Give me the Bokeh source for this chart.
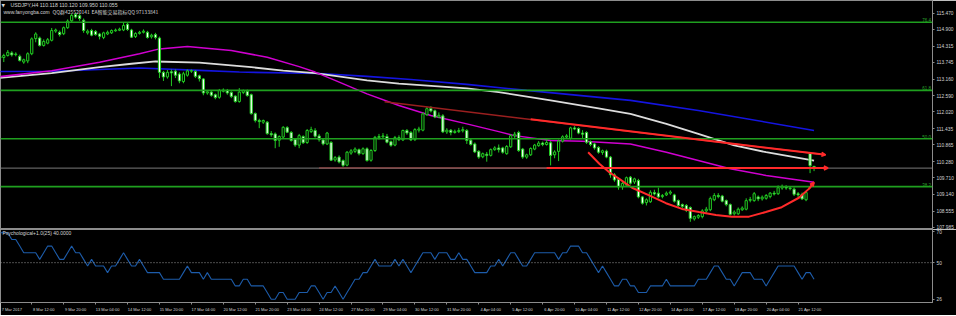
from bokeh.plotting import figure
from bokeh.models import Range1d, FixedTicker, Span, Label, Arrow, VeeHead, NumeralTickFormatter
from bokeh.layouts import column
from bokeh.embed import file_html
from bokeh.resources import INLINE
from bokeh.core.properties import value

# ---------------- data (USDJPY H4) ----------------
opens = [
    113.95, 113.92, 113.99, 114.08, 114.02, 113.96, 113.76, 113.80, 114.05, 114.58,
    114.60, 114.34, 114.42, 114.52, 114.84, 114.80, 114.75, 114.96, 115.20, 115.42,
    115.38, 115.22, 114.78, 114.86, 114.83, 114.74, 114.62, 114.74, 114.78, 114.85,
    114.87, 114.88, 115.08, 114.88, 114.65, 114.76, 114.80, 114.80, 114.64, 114.72,
    114.60, 113.40, 113.24, 113.42, 113.44, 113.34, 113.08, 113.30, 113.44, 113.43,
    113.28, 113.17, 112.68, 112.71, 112.62, 112.53, 112.74, 112.77, 112.70, 112.57,
    112.38, 112.70, 112.74, 112.62, 111.96, 111.72, 111.66, 111.66, 111.26, 111.25,
    111.03, 111.14, 111.47, 111.30, 111.06, 110.86, 111.16, 110.95, 111.33, 111.37,
    111.18, 111.04, 110.90, 110.95, 110.34, 110.44, 110.32, 110.16, 110.58, 110.64,
    110.70, 110.56, 110.73, 110.33, 110.67, 111.12, 111.15, 111.16, 110.98, 110.86,
    111.12, 111.04, 111.37, 111.30, 111.05, 111.38, 111.38, 111.92, 112.14, 112.06,
    111.84, 111.88, 111.32, 111.38, 111.30, 111.33, 111.36, 111.37, 111.03, 110.90,
    110.64, 110.45, 110.54, 110.50, 110.70, 110.76, 110.76, 110.56, 110.80, 111.18,
    111.30, 110.72, 110.44, 110.52, 110.72, 110.84, 110.93, 110.88, 110.94, 110.52,
    110.64, 111.00, 111.14, 111.10, 111.46, 111.44, 111.28, 111.30, 110.98, 110.90,
    110.78, 110.60, 110.65, 110.44, 109.82, 109.66, 109.40, 109.46, 109.74, 109.57,
    109.62, 109.05, 108.85, 108.88, 109.20, 109.18, 109.06, 109.12, 109.18, 109.12,
    108.92, 108.78, 108.75, 108.68, 108.28, 108.34, 108.36, 108.56, 108.60, 108.95,
    109.10, 109.08, 108.92, 108.78, 108.46, 108.46, 108.60, 108.62, 108.93, 108.92,
    109.05, 108.98, 109.00, 109.06, 109.18, 109.16, 109.36, 109.40, 109.36, 109.32,
    109.16, 109.14, 108.95, 110.57, 110.118,
]
highs = [
    114.00, 114.05, 114.18, 114.14, 114.10, 114.02, 113.88, 114.10, 114.62, 114.80,
    114.65, 114.55, 114.60, 114.95, 114.93, 114.86, 115.00, 115.25, 115.45, 115.48,
    115.44, 115.28, 114.90, 114.92, 114.88, 114.78, 114.82, 114.86, 114.90, 114.93,
    114.96, 115.15, 115.14, 114.92, 114.80, 114.85, 114.90, 114.85, 114.75, 114.78,
    114.65, 113.45, 113.48, 113.50, 113.50, 113.40, 113.42, 113.50, 113.50, 113.48,
    113.32, 113.20, 112.78, 112.75, 112.66, 112.82, 112.84, 112.82, 112.74, 112.60,
    112.85, 112.80, 112.80, 112.66, 112.00, 111.78, 111.75, 111.70, 111.35, 111.30,
    111.20, 111.52, 111.52, 111.35, 111.10, 111.25, 111.20, 111.42, 111.50, 111.45,
    111.25, 111.08, 111.32, 111.00, 110.48, 110.50, 110.36, 110.65, 110.72, 110.78,
    110.74, 110.78, 110.78, 110.72, 111.18, 111.25, 111.28, 111.25, 111.02, 111.18,
    111.20, 111.40, 111.42, 111.35, 111.45, 111.50, 112.00, 112.20, 112.22, 112.10,
    112.00, 111.94, 111.45, 111.42, 111.40, 111.46, 111.50, 111.42, 111.08, 110.95,
    110.68, 110.60, 110.62, 110.74, 110.82, 110.88, 110.80, 110.86, 111.24, 111.32,
    111.36, 110.76, 110.56, 110.78, 110.90, 111.00, 110.98, 111.08, 111.00, 110.68,
    111.05, 111.20, 111.24, 111.50, 111.52, 111.48, 111.38, 111.34, 111.02, 110.94,
    110.82, 110.70, 110.70, 110.48, 109.88, 109.72, 109.58, 109.76, 109.78, 109.72,
    109.68, 109.08, 109.00, 109.28, 109.30, 109.37, 109.15, 109.24, 109.28, 109.16,
    108.96, 108.82, 108.80, 108.72, 108.40, 108.45, 108.62, 108.70, 109.06, 109.18,
    109.18, 109.12, 108.96, 108.82, 108.58, 108.68, 108.72, 109.00, 109.05, 109.22,
    109.10, 109.10, 109.15, 109.22, 109.26, 109.45, 109.48, 109.46, 109.42, 109.38,
    109.22, 109.20, 109.24, 110.62, 110.120,
]
lows = [
    113.85, 113.76, 113.95, 113.95, 113.96, 113.78, 113.70, 113.72, 114.00, 114.45,
    114.30, 114.30, 114.38, 114.48, 114.78, 114.65, 114.70, 114.92, 115.15, 115.28,
    115.20, 114.78, 114.72, 114.66, 114.68, 114.55, 114.56, 114.70, 114.74, 114.82,
    114.84, 114.84, 114.85, 114.60, 114.60, 114.72, 114.76, 114.58, 114.58, 114.55,
    113.20, 113.10, 113.18, 112.92, 113.20, 113.02, 113.02, 113.25, 113.38, 113.20,
    113.08, 112.60, 112.62, 112.55, 112.46, 112.48, 112.70, 112.62, 112.50, 112.34,
    112.34, 112.64, 112.55, 111.92, 111.65, 111.45, 111.60, 111.22, 111.15, 110.75,
    110.80, 111.10, 111.28, 110.98, 110.80, 110.75, 110.90, 110.90, 111.28, 111.12,
    110.98, 110.85, 110.86, 110.30, 110.28, 110.22, 110.10, 110.12, 110.52, 110.58,
    110.50, 110.52, 110.28, 110.28, 110.62, 111.05, 111.08, 110.92, 110.80, 110.82,
    111.00, 111.00, 111.22, 111.00, 111.00, 111.30, 111.34, 111.88, 112.00, 111.80,
    111.80, 111.28, 111.25, 111.20, 111.26, 111.28, 111.30, 110.90, 110.84, 110.58,
    110.38, 110.40, 110.28, 110.46, 110.66, 110.60, 110.56, 110.52, 110.76, 111.10,
    110.62, 110.38, 110.38, 110.48, 110.68, 110.80, 110.82, 110.84, 110.15, 110.40,
    110.30, 110.95, 111.08, 111.05, 111.38, 111.24, 111.10, 110.90, 110.82, 110.70,
    110.56, 110.52, 110.40, 109.72, 109.58, 109.30, 109.30, 109.40, 109.48, 109.50,
    109.00, 108.78, 108.75, 108.84, 109.10, 109.00, 109.00, 109.08, 109.12, 108.85,
    108.70, 108.65, 108.52, 108.18, 108.22, 108.28, 108.30, 108.50, 108.55, 108.90,
    109.00, 108.86, 108.72, 108.40, 108.40, 108.42, 108.56, 108.58, 108.86, 108.88,
    108.90, 108.92, 108.95, 109.00, 109.10, 109.12, 109.30, 109.30, 109.28, 109.08,
    109.05, 108.94, 108.90, 109.88, 109.950,
]
closes = [
    113.90, 113.99, 114.10, 114.01, 114.04, 113.81, 113.84, 114.05, 114.57, 114.74,
    114.34, 114.48, 114.54, 114.86, 114.88, 114.72, 114.96, 115.19, 115.39, 115.33,
    115.28, 114.86, 114.84, 114.70, 114.72, 114.66, 114.78, 114.80, 114.86, 114.88,
    114.91, 115.04, 114.90, 114.63, 114.76, 114.80, 114.84, 114.62, 114.70, 114.62,
    113.40, 113.24, 113.40, 113.38, 113.30, 113.10, 113.35, 113.45, 113.46, 113.26,
    113.18, 112.68, 112.72, 112.60, 112.52, 112.77, 112.78, 112.68, 112.56, 112.38,
    112.71, 112.76, 112.59, 111.96, 111.72, 111.68, 111.72, 111.26, 111.22, 111.02,
    111.16, 111.48, 111.31, 111.02, 110.86, 111.19, 110.94, 111.37, 111.40, 111.17,
    111.05, 110.90, 111.28, 110.33, 110.42, 110.27, 110.15, 110.61, 110.66, 110.72,
    110.56, 110.73, 110.32, 110.67, 111.13, 111.16, 111.18, 110.96, 110.85, 111.12,
    111.05, 111.37, 111.28, 111.04, 111.40, 111.42, 111.95, 112.13, 112.05, 111.84,
    111.90, 111.32, 111.38, 111.30, 111.34, 111.37, 111.40, 111.02, 110.88, 110.62,
    110.44, 110.56, 110.50, 110.70, 110.76, 110.70, 110.61, 110.81, 111.19, 111.24,
    110.67, 110.44, 110.52, 110.74, 110.86, 110.93, 110.88, 110.95, 110.50, 110.62,
    111.00, 111.15, 111.18, 111.46, 111.42, 111.28, 111.24, 110.96, 110.88, 110.76,
    110.61, 110.66, 110.44, 109.82, 109.64, 109.40, 109.52, 109.72, 109.53, 109.68,
    109.05, 108.83, 108.95, 109.21, 109.15, 109.05, 109.10, 109.18, 109.22, 108.90,
    108.75, 108.72, 108.58, 108.30, 108.36, 108.40, 108.56, 108.62, 108.99, 109.10,
    109.06, 108.90, 108.78, 108.44, 108.52, 108.62, 108.66, 108.92, 108.96, 109.16,
    108.98, 109.04, 109.10, 109.18, 109.15, 109.37, 109.42, 109.36, 109.34, 109.14,
    109.12, 108.98, 109.20, 110.14, 110.055,
]

# moving averages, read at sample bars
ma_white_x = [0, 13, 25, 33, 39, 50, 63, 71, 79, 92, 100, 117, 125, 138, 150, 158, 167, 175, 184, 192, 204]
ma_white_y = [113.21, 113.37, 113.58, 113.70, 113.78, 113.74, 113.58, 113.46, 113.37, 113.12, 113.01,
              112.84, 112.71, 112.42, 112.14, 111.95, 111.60, 111.25, 110.85, 110.61, 110.32]
ma_blue_x = [0, 13, 25, 35, 50, 60, 80, 92, 103, 117, 132, 158, 175, 204]
ma_blue_y = [113.43, 113.44, 113.50, 113.55, 113.47, 113.41, 113.36, 113.26, 113.15, 112.98, 112.77,
             112.42, 112.07, 111.37]
ma_mag_x = [0, 13, 25, 35, 40, 47, 58, 67, 75, 79, 84, 92, 100, 108, 117, 125, 129, 138, 146, 158,
            167, 175, 183, 192, 204]
ma_mag_y = [113.25, 113.46, 113.75, 114.05, 114.22, 114.30, 114.16, 113.93, 113.60, 113.41, 113.12,
            112.65, 112.24, 111.89, 111.60, 111.33, 111.19, 111.02, 110.99, 110.90, 110.61, 110.32,
            110.03, 109.80, 109.56]

# Psychological line (25)
psy = [
    68, 68, 68, 64, 64, 60, 56, 56, 56, 56,
    52, 56, 60, 60, 56, 52, 52, 56, 60, 56,
    56, 52, 48, 52, 48, 48, 48, 44, 48, 48,
    52, 56, 52, 48, 48, 52, 48, 44, 44, 44,
    44, 40, 40, 40, 40, 40, 44, 48, 44, 44,
    44, 40, 44, 40, 40, 40, 40, 40, 40, 36,
    36, 40, 40, 36, 36, 36, 36, 32, 28, 28,
    32, 32, 28, 28, 28, 32, 32, 32, 36, 36,
    32, 28, 32, 32, 36, 32, 28, 32, 36, 40,
    40, 44, 44, 48, 52, 48, 48, 48, 48, 52,
    48, 52, 48, 44, 48, 52, 56, 56, 56, 52,
    56, 56, 56, 52, 52, 56, 52, 52, 48, 44,
    44, 44, 44, 48, 48, 52, 48, 52, 56, 56,
    52, 48, 48, 52, 56, 56, 56, 56, 56, 56,
    52, 56, 56, 60, 60, 60, 56, 56, 52, 48,
    44, 48, 44, 40, 36, 36, 40, 40, 36, 36,
    32, 32, 32, 36, 36, 36, 36, 40, 36, 36,
    36, 36, 36, 36, 36, 40, 40, 40, 44, 48,
    48, 44, 40, 40, 36, 40, 44, 44, 44, 40,
    40, 40, 36, 40, 44, 48, 48, 48, 48, 48,
    44, 40, 44, 44, 40,
]

# fibonacci levels drawn on the chart
fib_levels = [115.15, 112.77, 111.08, 109.41]
fib_names = ["76.4", "61.8", "50.0", "38.2"]

# hand-drawn objects (bar index, price)
trend_x = [96.4, 206.9]
trend_y = [112.37, 110.52]
trend_bright_x = [133.0, 206.9]
trend_bright_y = [111.76, 110.52]
hline_x = [80.0, 207.5]
hline_bright_x = [137.0, 207.5]
hline_price = 110.06
arc_x = [147.4, 150.2, 152.7, 155.2, 158.4, 162.7, 166.9, 170.9, 175.2, 179.4, 183.4, 187.7,
         191.9, 195.9, 200.2, 202.7, 204.0]
arc_y = [110.61, 110.21, 109.91, 109.68, 109.37, 109.10, 108.83, 108.63, 108.52, 108.42, 108.36,
         108.36, 108.52, 108.69, 109.02, 109.33, 109.56]

bid_price = 110.055

price_ticks = [115.470, 114.900, 114.315, 113.745, 113.160, 112.590, 112.020, 111.435,
               110.865, 110.280, 109.710, 109.140, 108.555, 107.985]
date_ticks = list(range(0, 201, 8))
date_labels = ["7 Mar 2017", "8 Mar 12:00", "9 Mar 20:00", "13 Mar 04:00", "14 Mar 12:00",
               "15 Mar 20:00", "17 Mar 04:00", "20 Mar 12:00", "21 Mar 20:00", "23 Mar 04:00",
               "24 Mar 12:00", "27 Mar 20:00", "29 Mar 04:00", "30 Mar 12:00", "31 Mar 20:00",
               "4 Apr 04:00", "5 Apr 12:00", "6 Apr 20:00", "10 Apr 04:00", "11 Apr 12:00",
               "12 Apr 20:00", "14 Apr 04:00", "17 Apr 12:00", "18 Apr 20:00", "20 Apr 04:00",
               "21 Apr 12:00"]
psy_ticks = [69, 50, 28]
psy_tick_labels = ["70", "50", "26"]

# ---------------- styling ----------------
FONT = "Liberation Sans"
BG = "#000000"
CANDLE = "#22cc22"
AXIS = "#8c8c8c"
TXT = "#d4d4d4"
RED = "#ff2a2a"
DARKRED = "#9a1f1f"
LABEL_SHIFT = 3  # MT4 draws time labels starting at the tick

xr = Range1d(0.175, 233.675)

p = figure(width=956, height=229, x_range=xr, y_range=Range1d(107.911, 115.91),
           output_backend="svg", toolbar_location=None, x_axis_location=None,
           y_axis_location="right", min_border_left=0, min_border_right=22,
           min_border_top=0, min_border_bottom=0, background_fill_color=BG,
           border_fill_color=BG, outline_line_color=AXIS)
p.grid.visible = False
ya = p.yaxis[0]
ya.ticker = FixedTicker(ticks=price_ticks)
ya.formatter = NumeralTickFormatter(format="0.000")
ya.major_label_text_font = FONT
ya.major_label_text_font_size = "4.8px"
ya.major_label_text_color = TXT
ya.major_tick_out = 2
ya.major_tick_in = 0
ya.minor_tick_line_color = None
ya.major_label_standoff = 2
ya.axis_line_color = AXIS
ya.major_tick_line_color = AXIS

# fib levels
for lv in fib_levels:
    p.add_layout(Span(location=lv, dimension="width", line_color="#1f9f1f", line_width=1.6))
p.text(x=[233.3] * len(fib_levels), y=fib_levels, text=fib_names, text_align="right",
       text_baseline="bottom", text_color="#2aa02a", text_font=value(FONT),
       text_font_size="4.5px")

# bid line
p.add_layout(Span(location=bid_price, dimension="width", line_color="#7a7a7a", line_width=1))

# moving averages
p.line(ma_blue_x, ma_blue_y, line_color="#1414e0", line_width=1.6)
p.line(ma_white_x, ma_white_y, line_color="#dcdcdc", line_width=1.8)
p.line(ma_mag_x, ma_mag_y, line_color="#d000d0", line_width=1.5)

# candles
bars = list(range(len(opens)))
up = [i for i in bars if closes[i] >= opens[i]]
dn = [i for i in bars if closes[i] < opens[i]]
p.segment(bars, highs, bars, lows, line_color=CANDLE, line_width=1)
p.vbar(x=[bars[i] for i in up], top=[closes[i] for i in up], bottom=[opens[i] for i in up],
       width=0.55, fill_color="#000000", line_color=CANDLE, line_width=1)
p.vbar(x=[bars[i] for i in dn], top=[opens[i] for i in dn], bottom=[closes[i] for i in dn],
       width=0.55, fill_color="#ffffff", line_color=CANDLE, line_width=1)

# drawn objects
p.line(trend_x, trend_y, line_color=DARKRED, line_width=1.5)
p.line(hline_x, [hline_price] * 2, line_color=DARKRED, line_width=1.5)
p.add_layout(Arrow(end=VeeHead(size=4, line_color=RED, line_width=1.5, fill_color=RED),
                   x_start=trend_bright_x[0], y_start=trend_bright_y[0],
                   x_end=trend_bright_x[1], y_end=trend_bright_y[1],
                   line_color=RED, line_width=2))
p.add_layout(Arrow(end=VeeHead(size=4, line_color=RED, line_width=1.5, fill_color=RED),
                   x_start=hline_bright_x[0], y_start=hline_price,
                   x_end=hline_bright_x[1], y_end=hline_price,
                   line_color=RED, line_width=2))
p.line(arc_x, arc_y, line_color=RED, line_width=2)
p.add_layout(Arrow(end=VeeHead(size=4, line_color=RED, line_width=1.5, fill_color=RED),
                   x_start=arc_x[-2], y_start=arc_y[-2], x_end=arc_x[-1], y_end=arc_y[-1],
                   line_color=RED, line_width=2))

# titles
p.add_layout(Label(x=1, y=224.5, x_units="screen", y_units="screen", text="▼",
                   text_font="DejaVu Sans", text_font_size="4.5px", text_color=TXT,
                   text_baseline="middle"))
p.add_layout(Label(x=10, y=224.5, x_units="screen", y_units="screen",
                   text="USDJPY,H4  110.118 110.120 109.950 110.055",
                   text_font=FONT, text_font_size="5.2px", text_color=TXT, text_baseline="middle"))
p.add_layout(Label(x=3, y=218, x_units="screen", y_units="screen", text="www.fanyongba.com",
                   text_font=FONT, text_font_size="5px", text_color=TXT, text_baseline="middle"))
p.add_layout(Label(x=52, y=218, x_units="screen", y_units="screen", text="QQ群425520141",
                   text_font="Noto Sans CJK SC", text_font_size="5px", text_color=TXT,
                   text_baseline="middle"))
p.add_layout(Label(x=91, y=218, x_units="screen", y_units="screen",
                   text="EA智能交易指标QQ 97133841",
                   text_font="Noto Sans CJK SC", text_font_size="5px", text_color=TXT,
                   text_baseline="middle"))

# current price box on the scale
p.add_layout(Label(x=233.9, y=bid_price, text="110.055", text_font=FONT,
                   text_font_size="4.8px", text_color="#000000", text_baseline="middle",
                   background_fill_color="#ffffff", padding=1))

# ---------------- indicator panel ----------------
p2 = figure(width=956, height=86, x_range=xr, y_range=Range1d(26, 70),
            output_backend="svg", toolbar_location=None, y_axis_location="right",
            min_border_left=0, min_border_right=22, min_border_top=0, min_border_bottom=13,
            background_fill_color=BG, border_fill_color=BG, outline_line_color=AXIS)
p2.grid.visible = False
p2.add_layout(Span(location=50, dimension="width", line_color="#9a9a9a", line_width=1,
                   line_dash="1 2"))
p2.line(bars, psy, line_color="#1d5caa", line_width=1.1)

ya2 = p2.yaxis[0]
ya2.ticker = FixedTicker(ticks=psy_ticks)
ya2.major_label_overrides = dict(zip(psy_ticks, psy_tick_labels))
ya2.major_label_text_font = FONT
ya2.major_label_text_font_size = "4.8px"
ya2.major_label_text_color = TXT
ya2.major_tick_out = 2
ya2.major_tick_in = 0
ya2.minor_tick_line_color = None
ya2.major_label_standoff = 2
ya2.axis_line_color = AXIS
ya2.major_tick_line_color = AXIS

xa = p2.xaxis[0]
shifted = [t + LABEL_SHIFT for t in date_ticks]
xa.ticker = FixedTicker(ticks=shifted, minor_ticks=date_ticks)
xa.major_label_overrides = dict(zip(shifted, date_labels))
xa.major_label_text_font = FONT
xa.major_label_text_font_size = "4px"
xa.major_label_text_color = TXT
xa.major_tick_out = 0
xa.major_tick_in = 0
xa.minor_tick_out = 2
xa.minor_tick_in = 0
xa.minor_tick_line_color = AXIS
xa.major_label_standoff = 2
xa.axis_line_color = AXIS

p2.add_layout(Label(x=2, y=70, x_units="screen", y_units="screen",
                    text="Psychological+1.0(25) 40.0000", text_font=FONT,
                    text_font_size="5px", text_color=TXT, text_baseline="middle"))

# MT4 tab bar strip at the very bottom
p3 = figure(width=956, height=1, x_range=xr, output_backend="svg", toolbar_location=None,
            x_axis_location=None, y_axis_location=None, min_border_left=0, min_border_right=0,
            min_border_top=0, min_border_bottom=0, background_fill_color="#a0a0a0",
            border_fill_color="#a0a0a0", outline_line_color=None)
p3.grid.visible = False

layout = column(p, p2, p3, spacing=0)
open("out.html", "w").write(file_html(layout, INLINE))
